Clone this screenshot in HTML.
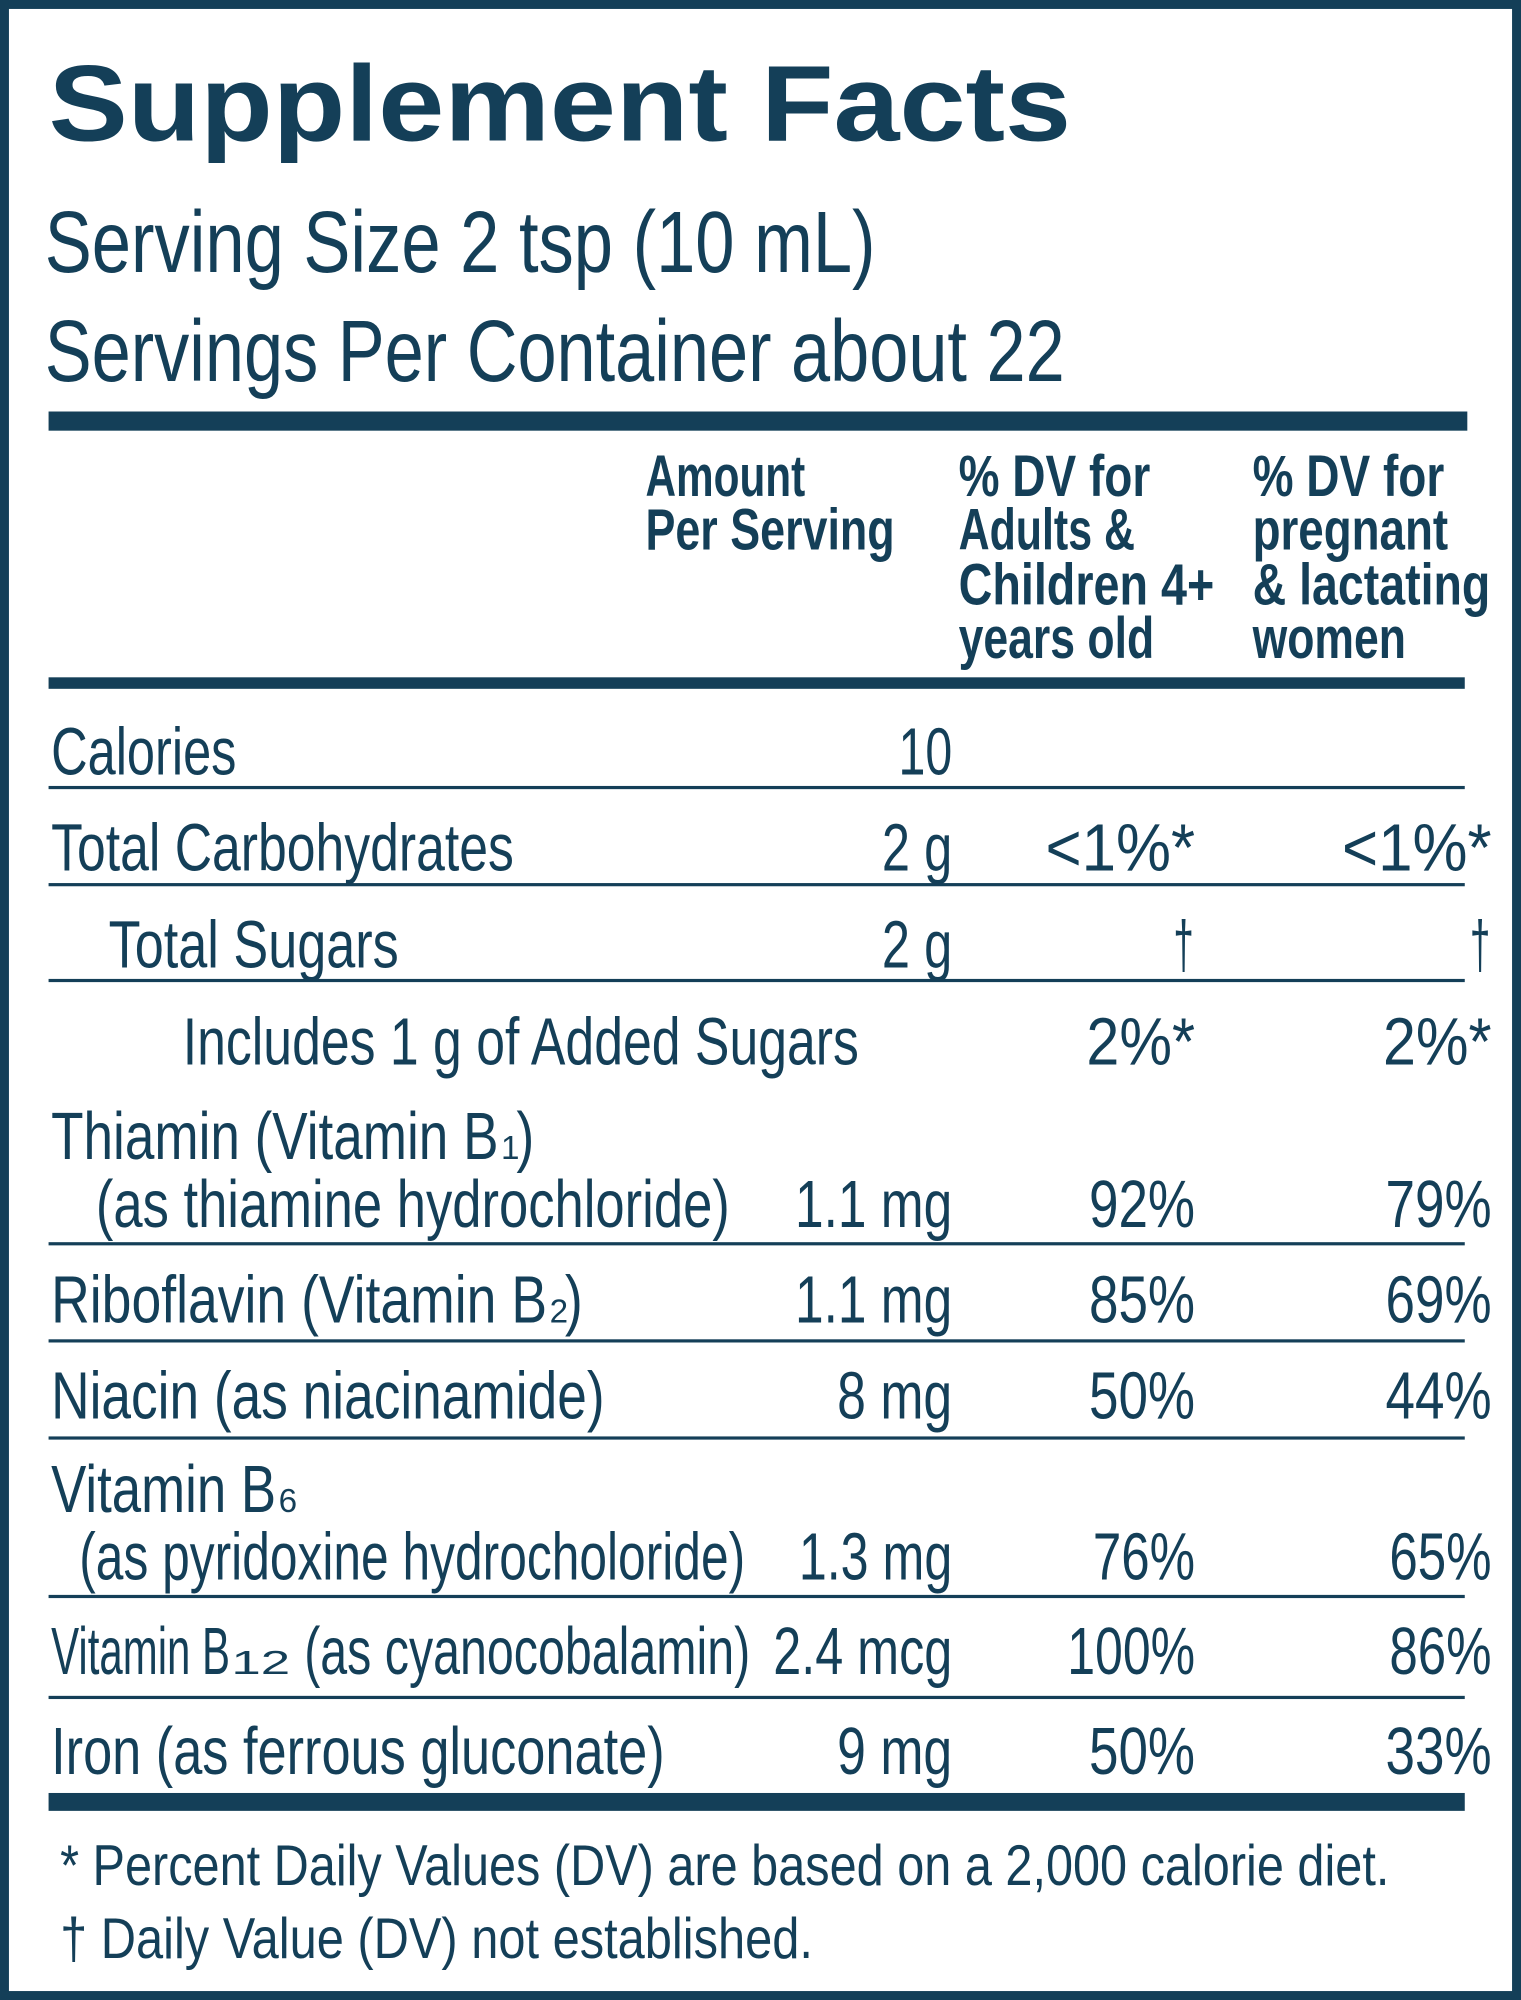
<!DOCTYPE html>
<html><head><meta charset="utf-8"><style>
html,body{margin:0;padding:0;background:#fff}
svg{display:block}
text{font-family:"Liberation Sans",sans-serif;fill:#143f58}
.h{font-weight:bold;font-size:46px}
.r{font-size:52px}
.f{font-size:45px}
</style></head><body>
<svg width="1521" height="2000" viewBox="0 0 1190 1565" preserveAspectRatio="none" xmlns="http://www.w3.org/2000/svg">
<rect x="3.5" y="3.5" width="1183" height="1558" fill="#fff" stroke="#143f58" stroke-width="7"/>
<text x="38" y="110" font-size="84" font-weight="bold" textLength="800" lengthAdjust="spacingAndGlyphs">Supplement Facts</text>
<text x="35" y="213" font-size="68" textLength="650" lengthAdjust="spacingAndGlyphs">Serving Size 2 tsp (10 mL)</text>
<text x="35" y="298" font-size="68" textLength="798" lengthAdjust="spacingAndGlyphs">Servings Per Container about 22</text>
<rect x="38" y="322" width="1110" height="15" fill="#143f58"/>
<g>
<text class="h" x="505" y="388" textLength="125" lengthAdjust="spacingAndGlyphs">Amount</text>
<text class="h" x="505" y="430" textLength="195" lengthAdjust="spacingAndGlyphs">Per Serving</text>
<text class="h" x="750" y="388" textLength="150" lengthAdjust="spacingAndGlyphs">% DV for</text>
<text class="h" x="750" y="430" textLength="138" lengthAdjust="spacingAndGlyphs">Adults &amp;</text>
<text class="h" x="750" y="473" textLength="200" lengthAdjust="spacingAndGlyphs">Children 4+</text>
<text class="h" x="750" y="515" textLength="153" lengthAdjust="spacingAndGlyphs">years old</text>
<text class="h" x="980" y="388" textLength="150" lengthAdjust="spacingAndGlyphs">% DV for</text>
<text class="h" x="980" y="430" textLength="153" lengthAdjust="spacingAndGlyphs">pregnant</text>
<text class="h" x="980" y="473" textLength="186" lengthAdjust="spacingAndGlyphs">&amp; lactating</text>
<text class="h" x="980" y="515" textLength="120" lengthAdjust="spacingAndGlyphs">women</text>
</g>
<rect x="38" y="530" width="1108" height="9" fill="#143f58"/>
<g>
<text class="r" x="40" y="606" textLength="145" lengthAdjust="spacingAndGlyphs">Calories</text>
<text class="r" x="703" y="606" textLength="42" lengthAdjust="spacingAndGlyphs">10</text>
<rect x="38" y="615" width="1108" height="2.5" fill="#143f58"/>

<text class="r" x="40" y="681" textLength="362" lengthAdjust="spacingAndGlyphs">Total Carbohydrates</text>
<text class="r" x="690" y="681" textLength="55" lengthAdjust="spacingAndGlyphs">2 g</text>
<text class="r" x="818" y="681" textLength="117" lengthAdjust="spacingAndGlyphs">&lt;1%*</text>
<text class="r" x="1050" y="681" textLength="117" lengthAdjust="spacingAndGlyphs">&lt;1%*</text>
<rect x="38" y="691" width="1108" height="2.5" fill="#143f58"/>

<text class="r" x="85" y="757" textLength="227" lengthAdjust="spacingAndGlyphs">Total Sugars</text>
<text class="r" x="690" y="757" textLength="55" lengthAdjust="spacingAndGlyphs">2 g</text>
<text class="r" x="918" y="757" textLength="16" lengthAdjust="spacingAndGlyphs">†</text>
<text class="r" x="1150" y="757" textLength="16" lengthAdjust="spacingAndGlyphs">†</text>
<rect x="38" y="766" width="1108" height="2.5" fill="#143f58"/>

<text class="r" x="143" y="833" textLength="529" lengthAdjust="spacingAndGlyphs">Includes 1 g of Added Sugars</text>
<text class="r" x="850" y="833" textLength="85" lengthAdjust="spacingAndGlyphs">2%*</text>
<text class="r" x="1082" y="833" textLength="85" lengthAdjust="spacingAndGlyphs">2%*</text>

<text class="r" x="40" y="907" textLength="350" lengthAdjust="spacingAndGlyphs">Thiamin (Vitamin B</text>
<text x="392" y="907" font-size="26">1</text>
<text class="r" x="404" y="907" textLength="14" lengthAdjust="spacingAndGlyphs">)</text>
<text class="r" x="75" y="960" textLength="496" lengthAdjust="spacingAndGlyphs">(as thiamine hydrochloride)</text>
<text class="r" x="622" y="960" textLength="123" lengthAdjust="spacingAndGlyphs">1.1 mg</text>
<text class="r" x="852" y="960" textLength="83" lengthAdjust="spacingAndGlyphs">92%</text>
<text class="r" x="1084" y="960" textLength="83" lengthAdjust="spacingAndGlyphs">79%</text>
<rect x="38" y="972" width="1108" height="2.5" fill="#143f58"/>

<text class="r" x="40" y="1035" textLength="388" lengthAdjust="spacingAndGlyphs">Riboflavin (Vitamin B</text>
<text x="430" y="1035" font-size="26">2</text>
<text class="r" x="442" y="1035" textLength="14" lengthAdjust="spacingAndGlyphs">)</text>
<text class="r" x="622" y="1035" textLength="123" lengthAdjust="spacingAndGlyphs">1.1 mg</text>
<text class="r" x="852" y="1035" textLength="83" lengthAdjust="spacingAndGlyphs">85%</text>
<text class="r" x="1084" y="1035" textLength="83" lengthAdjust="spacingAndGlyphs">69%</text>
<rect x="38" y="1048" width="1108" height="2.5" fill="#143f58"/>

<text class="r" x="40" y="1110" textLength="433" lengthAdjust="spacingAndGlyphs">Niacin (as niacinamide)</text>
<text class="r" x="655" y="1110" textLength="90" lengthAdjust="spacingAndGlyphs">8 mg</text>
<text class="r" x="852" y="1110" textLength="83" lengthAdjust="spacingAndGlyphs">50%</text>
<text class="r" x="1084" y="1110" textLength="83" lengthAdjust="spacingAndGlyphs">44%</text>
<rect x="38" y="1124" width="1108" height="2.5" fill="#143f58"/>

<text class="r" x="40" y="1183" textLength="176" lengthAdjust="spacingAndGlyphs">Vitamin B</text>
<text x="218" y="1183" font-size="26">6</text>
<text class="r" x="62" y="1236" textLength="521" lengthAdjust="spacingAndGlyphs">(as pyridoxine hydrocholoride)</text>
<text class="r" x="625" y="1236" textLength="120" lengthAdjust="spacingAndGlyphs">1.3 mg</text>
<text class="r" x="855" y="1236" textLength="80" lengthAdjust="spacingAndGlyphs">76%</text>
<text class="r" x="1087" y="1236" textLength="80" lengthAdjust="spacingAndGlyphs">65%</text>
<rect x="38" y="1248" width="1108" height="2.5" fill="#143f58"/>

<text class="r" x="40" y="1310" textLength="140" lengthAdjust="spacingAndGlyphs">Vitamin B</text>
<text x="181" y="1310" font-size="26" textLength="46" lengthAdjust="spacingAndGlyphs">12</text>
<text class="r" x="238" y="1310" textLength="349" lengthAdjust="spacingAndGlyphs">(as cyanocobalamin)</text>
<text class="r" x="605" y="1310" textLength="140" lengthAdjust="spacingAndGlyphs">2.4 mcg</text>
<text class="r" x="835" y="1310" textLength="100" lengthAdjust="spacingAndGlyphs">100%</text>
<text class="r" x="1087" y="1310" textLength="80" lengthAdjust="spacingAndGlyphs">86%</text>
<rect x="38" y="1327" width="1108" height="2.5" fill="#143f58"/>

<text class="r" x="40" y="1388" textLength="480" lengthAdjust="spacingAndGlyphs">Iron (as ferrous gluconate)</text>
<text class="r" x="655" y="1388" textLength="90" lengthAdjust="spacingAndGlyphs">9 mg</text>
<text class="r" x="852" y="1388" textLength="83" lengthAdjust="spacingAndGlyphs">50%</text>
<text class="r" x="1084" y="1388" textLength="83" lengthAdjust="spacingAndGlyphs">33%</text>
</g>
<rect x="38" y="1403" width="1108" height="14" fill="#143f58"/>
<text class="f" x="47" y="1475" textLength="1040" lengthAdjust="spacingAndGlyphs">* Percent Daily Values (DV) are based on a 2,000 calorie diet.</text>
<text class="f" x="47" y="1532" textLength="589" lengthAdjust="spacingAndGlyphs">† Daily Value (DV) not established.</text>
</svg>
</body></html>
